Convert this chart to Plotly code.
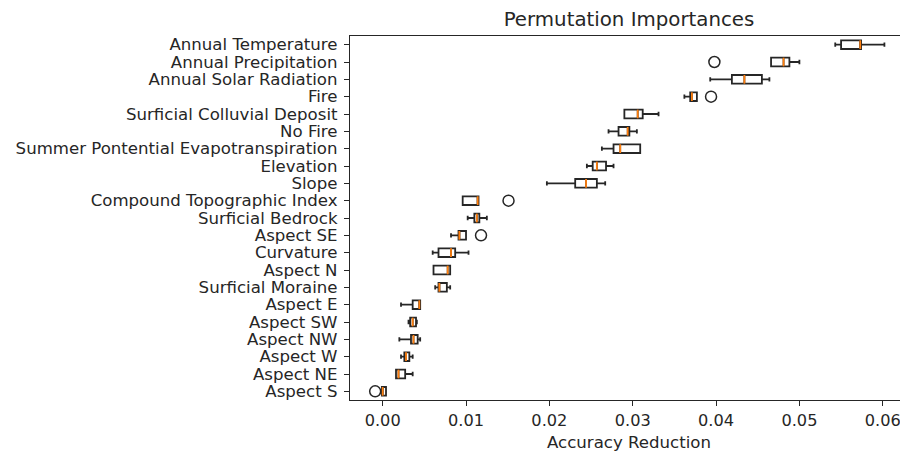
import plotly.graph_objects as go

features = ["Annual Temperature", "Annual Precipitation", "Annual Solar Radiation", "Fire",
            "Surficial Colluvial Deposit", "No Fire", "Summer Pontential Evapotranspiration",
            "Elevation", "Slope", "Compound Topographic Index", "Surficial Bedrock", "Aspect SE",
            "Curvature", "Aspect N", "Surficial Moraine", "Aspect E", "Aspect SW", "Aspect NW",
            "Aspect W", "Aspect NE", "Aspect S"]
lower_whisker = [0.0543, 0.0466, 0.0393, 0.0362, 0.0290, 0.0271, 0.0263, 0.0245, 0.0197, 0.0096, 0.0102,
                 0.0082, 0.0060, 0.0061, 0.0063, 0.0022, 0.0031, 0.0020, 0.0022, 0.0016, -0.0001]
q1 = [0.0550, 0.0466, 0.0419, 0.0369, 0.0290, 0.0283, 0.0277, 0.0252, 0.0231, 0.0096, 0.0110,
      0.0091, 0.0067, 0.0061, 0.0067, 0.0036, 0.0033, 0.0034, 0.0026, 0.0016, -0.0001]
median = [0.0573, 0.0481, 0.0434, 0.0371, 0.0306, 0.0294, 0.0285, 0.0257, 0.0244, 0.0114, 0.0113,
          0.0092, 0.0082, 0.0078, 0.0068, 0.0044, 0.0036, 0.0037, 0.0028, 0.0019, 0.0000]
q3 = [0.0574, 0.0488, 0.0455, 0.0377, 0.0312, 0.0296, 0.0309, 0.0268, 0.0257, 0.0115, 0.0116,
      0.0100, 0.0087, 0.0081, 0.0077, 0.0045, 0.0040, 0.0042, 0.0032, 0.0027, 0.0004]
upper_whisker = [0.0602, 0.0500, 0.0464, 0.0377, 0.0331, 0.0305, 0.0309, 0.0277, 0.0267, 0.0115, 0.0125,
                 0.0100, 0.0103, 0.0081, 0.0081, 0.0045, 0.0041, 0.0045, 0.0036, 0.0036, 0.0004]
outlier_features = ["Annual Precipitation", "Fire", "Compound Topographic Index", "Aspect SE", "Aspect S"]
outlier_values = [0.0398, 0.0394, 0.0151, 0.0118, -0.0009]
x_ticks = [0.00, 0.01, 0.02, 0.03, 0.04, 0.05, 0.06]

n = len(features)
pos = [n - 1 - i for i in range(n)]
pos_of = dict(zip(features, pos))
box_w = 0.5
dark = "#262626"

fig = go.Figure()
fig.add_trace(go.Box(
    y=pos, q1=q1, median=median, q3=q3, lowerfence=lower_whisker, upperfence=upper_whisker,
    orientation="h", width=box_w, whiskerwidth=0.5, boxpoints=False,
    line=dict(color=dark, width=1.8), fillcolor="rgba(0,0,0,0)",
    showlegend=False, hoverinfo="skip"))

mx, my = [], []
for p, m in zip(pos, median):
    mx += [m, m, None]
    my += [p - box_w / 2, p + box_w / 2, None]
fig.add_trace(go.Scatter(x=mx, y=my, mode="lines", line=dict(color="#ff7f0e", width=1.8),
                         showlegend=False, hoverinfo="skip"))

fig.add_trace(go.Scatter(x=outlier_values, y=[pos_of[f] for f in outlier_features], mode="markers",
                         marker=dict(symbol="circle-open", size=11, color=dark, line=dict(width=1.5)),
                         showlegend=False, hoverinfo="skip"))

font = dict(family="DejaVu Sans", size=16, color=dark)
H = 447
fig.update_layout(
    width=900, height=H, margin=dict(l=342, r=0, t=28, b=55),
    paper_bgcolor="white", plot_bgcolor="white", font=font,
    title=dict(text="Permutation Importances", x=0.5, xref="paper", y=1 - 11 / H, yref="container",
               xanchor="center", yanchor="middle", font=dict(family="DejaVu Sans", size=19.8, color=dark)),
    xaxis=dict(range=[-0.00392, 0.06303], tickvals=x_ticks, ticktext=[f"{v:.2f}" for v in x_ticks],
               showgrid=False, zeroline=False, showline=True, linecolor=dark, linewidth=1.3,
               mirror=True, ticks="outside", ticklen=5, tickcolor=dark,
               tickfont=dict(family="DejaVu Sans", size=16.2, color=dark),
               title=dict(text="Accuracy Reduction", standoff=7, font=dict(family="DejaVu Sans", size=16.6, color=dark))),
    yaxis=dict(range=[-0.5, n - 0.5], tickvals=pos, ticktext=features, showgrid=False, zeroline=False,
               showline=True, linecolor=dark, linewidth=1.3, mirror=False,
               ticks="outside", ticklen=5, tickcolor=dark, ticklabelstandoff=3,
               tickfont=dict(family="DejaVu Sans", size=16.6, color=dark)),
)
fig.write_html("out.html")
